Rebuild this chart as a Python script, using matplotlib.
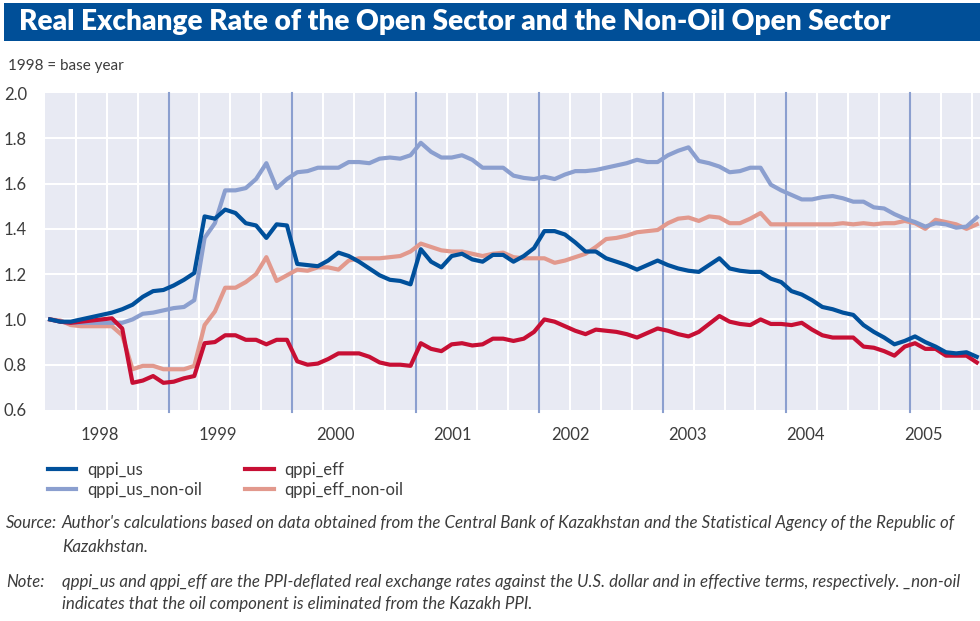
import matplotlib
matplotlib.use("Agg")
import matplotlib.pyplot as plt
from matplotlib.patches import Rectangle
import numpy as np

# monthly data, Jan 1998 - Jul 2005 (1998 = base year)
qppi_us = [1.00, 0.99, 0.99, 1.00, 1.01, 1.02, 1.03, 1.045, 1.065, 1.10,
           1.125, 1.13, 1.15, 1.175, 1.205, 1.455, 1.445, 1.485, 1.47, 1.425,
           1.415, 1.36, 1.42, 1.415, 1.245, 1.24, 1.235, 1.26, 1.295, 1.28,
           1.255, 1.225, 1.195, 1.175, 1.17, 1.155, 1.31, 1.255, 1.23, 1.28,
           1.29, 1.265, 1.255, 1.285, 1.285, 1.255, 1.28, 1.315, 1.39, 1.39,
           1.375, 1.34, 1.30, 1.30, 1.27, 1.255, 1.24, 1.22, 1.24, 1.26,
           1.24, 1.225, 1.215, 1.21, 1.24, 1.27, 1.225, 1.215, 1.21, 1.21,
           1.18, 1.165, 1.125, 1.11, 1.085, 1.055, 1.045, 1.03, 1.02, 0.975,
           0.945, 0.92, 0.89, 0.905, 0.925, 0.90, 0.88, 0.855, 0.85, 0.855,
           0.835]
qppi_us_nonoil = [1.00, 0.99, 0.985, 0.985, 0.985, 0.985, 0.985, 0.985, 1.00, 1.025,
                  1.03, 1.04, 1.05, 1.055, 1.085, 1.36, 1.425, 1.57, 1.57, 1.58,
                  1.62, 1.69, 1.58, 1.62, 1.65, 1.655, 1.67, 1.67, 1.67, 1.695,
                  1.695, 1.69, 1.71, 1.715, 1.71, 1.725, 1.78, 1.74, 1.715, 1.715,
                  1.725, 1.705, 1.67, 1.67, 1.67, 1.635, 1.625, 1.62, 1.63, 1.62,
                  1.64, 1.655, 1.655, 1.66, 1.67, 1.68, 1.69, 1.705, 1.695, 1.695,
                  1.725, 1.745, 1.76, 1.70, 1.69, 1.675, 1.65, 1.655, 1.67, 1.67,
                  1.595, 1.57, 1.55, 1.53, 1.53, 1.54, 1.545, 1.535, 1.52, 1.52,
                  1.495, 1.49, 1.465, 1.445, 1.43, 1.41, 1.425, 1.42, 1.405, 1.41,
                  1.45]
qppi_eff = [1.00, 0.99, 0.985, 0.99, 0.995, 1.00, 1.005, 0.96, 0.72, 0.73,
            0.75, 0.72, 0.725, 0.74, 0.75, 0.895, 0.90, 0.93, 0.93, 0.91,
            0.91, 0.89, 0.91, 0.91, 0.815, 0.80, 0.805, 0.825, 0.85, 0.85,
            0.85, 0.835, 0.81, 0.80, 0.80, 0.795, 0.895, 0.87, 0.86, 0.89,
            0.895, 0.885, 0.89, 0.915, 0.915, 0.905, 0.915, 0.945, 1.00, 0.99,
            0.97, 0.95, 0.935, 0.955, 0.95, 0.945, 0.935, 0.92, 0.94, 0.96,
            0.95, 0.935, 0.925, 0.945, 0.98, 1.015, 0.99, 0.98, 0.975, 1.00,
            0.98, 0.98, 0.975, 0.985, 0.955, 0.93, 0.92, 0.92, 0.92, 0.88,
            0.875, 0.86, 0.84, 0.88, 0.895, 0.87, 0.87, 0.84, 0.84, 0.84,
            0.81]
qppi_eff_nonoil = [1.00, 0.995, 0.975, 0.97, 0.97, 0.97, 0.97, 0.93, 0.78, 0.795,
                   0.795, 0.78, 0.78, 0.78, 0.795, 0.975, 1.035, 1.14, 1.14, 1.165,
                   1.20, 1.275, 1.17, 1.195, 1.22, 1.215, 1.23, 1.23, 1.22, 1.26,
                   1.27, 1.27, 1.27, 1.275, 1.28, 1.30, 1.335, 1.32, 1.305, 1.30,
                   1.30, 1.29, 1.28, 1.29, 1.295, 1.275, 1.27, 1.27, 1.27, 1.25,
                   1.26, 1.275, 1.29, 1.32, 1.355, 1.36, 1.37, 1.385, 1.39, 1.395,
                   1.425, 1.445, 1.45, 1.435, 1.455, 1.45, 1.425, 1.425, 1.445, 1.47,
                   1.42, 1.42, 1.42, 1.42, 1.42, 1.42, 1.42, 1.425, 1.42, 1.425,
                   1.42, 1.425, 1.425, 1.435, 1.425, 1.40, 1.44, 1.43, 1.42, 1.40,
                   1.42]
years = ["1998", "1999", "2000", "2001", "2002", "2003", "2004", "2005"]
yticks = [0.6, 0.8, 1.0, 1.2, 1.4, 1.6, 1.8, 2.0]

c_us = "#00509b"
c_us_no = "#8b9fcf"
c_eff = "#c70f34"
c_eff_no = "#e2998d"
txt = "#3c3c3c"

plt.rcParams['font.family'] = ['Lato', 'DejaVu Sans']

fig = plt.figure(figsize=(9.8, 6.21), dpi=100)

# title bar
fig.patches.append(Rectangle((4 / 980, 1 - 41 / 621), 1, 38 / 621, transform=fig.transFigure,
                             facecolor="#004f98", edgecolor="none"))
fig.text(19 / 980, 1 - 22 / 621, "Real Exchange Rate of the Open Sector and the Non-Oil Open Sector",
         color="white", fontsize=20.2, fontweight="heavy", va="center", ha="left")
fig.text(8 / 980, 1 - 66 / 621, "1998 = base year", color=txt, fontsize=11, va="center")

ax = fig.add_axes([45 / 980, 1 - 410 / 621, 1 - 45 / 980, 317 / 621])
ax.set_facecolor("#e8eaf3")
for s in ax.spines.values():
    s.set_visible(False)

n = len(qppi_us)
x = np.arange(n) + 0.5
ax.set_xlim(0, 935 / 10.296)
ax.set_ylim(0.6, 2.0)

# grid: white quarters, blue year separators
for q in range(3, 91, 3):
    if q % 12 == 0:
        continue
    ax.axvline(q, color="white", lw=1.5, zorder=1)
for v in yticks[1:-1]:
    ax.axhline(v, color="white", lw=1.5, zorder=1)
for yr in range(12, 91, 12):
    ax.plot([yr, yr], [0.59, 2.0], color=c_us_no, lw=1.5, zorder=2, clip_on=False)

ax.plot(x, qppi_eff_nonoil, color=c_eff_no, lw=3, zorder=3, label="qppi_eff_non-oil")
ax.plot(x, qppi_us_nonoil, color=c_us_no, lw=3, zorder=3, label="qppi_us_non-oil")
ax.plot(x, qppi_eff, color=c_eff, lw=3, zorder=4, label="qppi_eff")
ax.plot(x, qppi_us, color=c_us, lw=3, zorder=4, label="qppi_us")

ax.set_yticks(yticks)
ax.set_yticklabels([f"{v:.1f}" for v in yticks])
ax.set_xticks([5.33 + 11.42 * i for i in range(len(years))])
ax.set_xticklabels(years)
ax.tick_params(length=0, labelsize=12, colors=txt)
ax.tick_params(axis="y", pad=13)
ax.tick_params(axis="x", pad=12)

h = {l.get_label(): l for l in ax.get_lines() if l.get_label().startswith("qppi")}
order = ["qppi_us", "qppi_us_non-oil", "qppi_eff", "qppi_eff_non-oil"]
fig.legend([h[k] for k in order], order, loc="upper left", bbox_to_anchor=(33 / 980, 1 - 447 / 621),
           ncol=2, frameon=False, fontsize=12, handlelength=1.7, columnspacing=2.6,
           labelspacing=0.25, handletextpad=0.65, labelcolor=txt)

fs = 12.2
fig.text(6 / 980, 1 - 523 / 621, "Source:", style="italic", color=txt, fontsize=12, va="center")
fig.text(62 / 980, 1 - 523 / 621,
         "Author's calculations based on data obtained from the Central Bank of Kazakhstan and the Statistical Agency of the Republic of",
         style="italic", color=txt, fontsize=fs, va="center")
fig.text(62 / 980, 1 - 547 / 621, "Kazakhstan.", style="italic", color=txt, fontsize=fs, va="center")
fig.text(6 / 980, 1 - 582 / 621, "Note:", style="italic", color=txt, fontsize=12, va="center")
fig.text(62 / 980, 1 - 582 / 621,
         "qppi_us and qppi_eff are the PPI-deflated real exchange rates against the U.S. dollar and in effective terms, respectively. _non-oil",
         style="italic", color=txt, fontsize=fs, va="center")
fig.text(62 / 980, 1 - 604 / 621, "indicates that the oil component is eliminated from the Kazakh PPI.",
         style="italic", color=txt, fontsize=fs, va="center")

fig.savefig("out.png", dpi=100)
